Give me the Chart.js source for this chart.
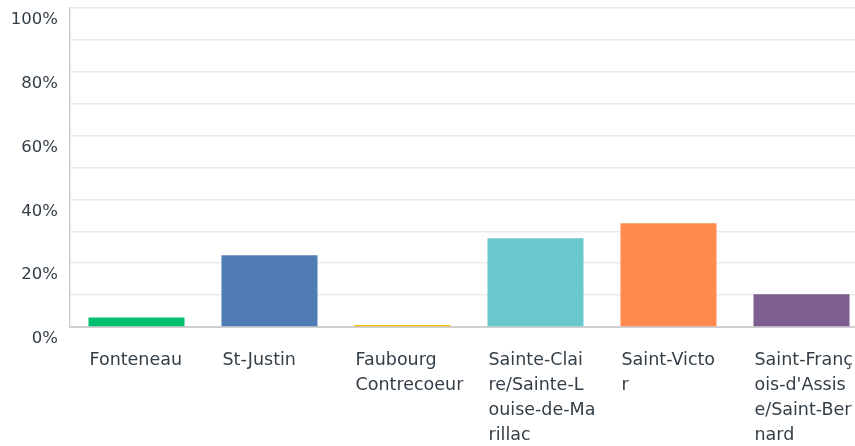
<!DOCTYPE html>
<html>
<head>
<meta charset="utf-8">
<script src="https://cdn.jsdelivr.net/npm/chart.js@4/dist/chart.umd.min.js"></script>
<style>
  html, body { margin: 0; padding: 0; background: #fff; overflow: hidden; }
  canvas { display: block; }
</style>
</head>
<body>
<canvas id="myChart" width="868" height="446"></canvas>
<script>
  // secteurs (libellés déjà coupés comme dans l'original)
  var labels = [
    ["Fonteneau"],
    ["St-Justin"],
    ["Faubourg", "Contrecoeur"],
    ["Sainte-Clai", "re/Sainte-L", "ouise-de-Ma", "rillac"],
    ["Saint-Victo", "r"],
    ["Saint-Franç", "ois-d'Assis", "e/Saint-Ber", "nard"]
  ];
  var values = [3, 22.5, 0.6, 27.8, 32.5, 10.3];
  var colors = ["#00bf6f", "#507cb6", "#f9be00", "#6bc8cd", "#ff8b4f", "#7d5e90"];
  var yTicks = [0, 20, 40, 60, 80, 100];

  var textColor = "#333e48";

  var ctx = document.getElementById("myChart");
  var config = {
    type: "bar",
    data: {
      labels: labels,
      datasets: [
        {
          data: values,
          backgroundColor: colors,
          borderWidth: 0,
          barPercentage: 0.722,
          categoryPercentage: 1
        }
      ]
    },
    options: {
      responsive: false,
      animation: false,
      layout: {
        padding: { top: 8, right: 0, bottom: 0, left: 0 }
      },
      plugins: {
        legend: { display: false },
        tooltip: { enabled: false }
      },
      scales: {
        x: {
          afterFit: function (scale) {
            scale.height = 119;
            scale.paddingLeft = 0;
            scale.paddingRight = 0;
          },
          grid: { display: false, drawTicks: false },
          border: { color: "#d0d0d0", width: 2 },
          ticks: {
            autoSkip: false,
            maxRotation: 0,
            minRotation: 0,
            align: "start",
            labelOffset: -47,
            padding: 21,
            color: textColor,
            font: { family: "DejaVu Sans", size: 17.5, lineHeight: "25px" }
          }
        },
        y: {
          min: 0,
          max: 100,
          afterFit: function (scale) {
            scale.width = 70;
            scale.paddingTop = 0;
            scale.paddingBottom = 0;
          },
          grid: { color: "#ebebeb", lineWidth: 1.5, drawTicks: false },
          border: { color: "#d0d0d0", width: 1.5 },
          ticks: {
            stepSize: 10,
            padding: 12,
            labelOffset: 12,
            color: textColor,
            font: { family: "DejaVu Sans", size: 16.5 },
            callback: function (v) {
              return yTicks.indexOf(v) >= 0 ? v + "%" : "";
            }
          }
        }
      }
    }
  };

  var myChart = new Chart(ctx, config);
</script>
</body>
</html>
